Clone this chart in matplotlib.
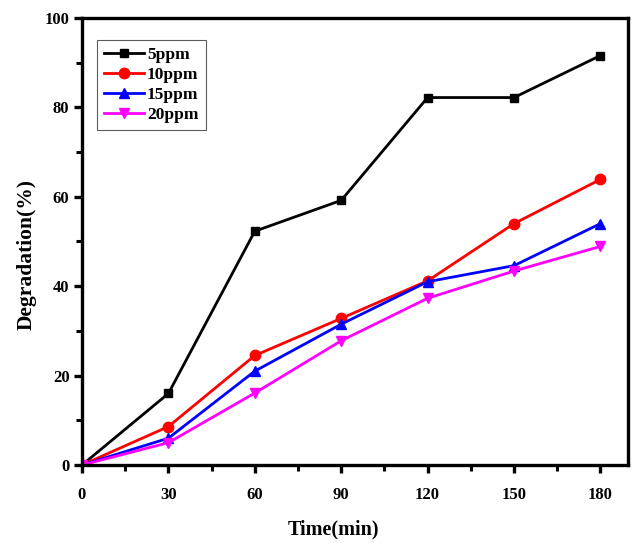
import matplotlib.pyplot as plt

time = [0, 30, 60, 90, 120, 150, 180]
deg_5ppm = [0, 16.0, 52.3, 59.2, 82.2, 82.2, 91.6]
deg_10ppm = [0, 8.6, 24.5, 32.8, 41.2, 54.0, 63.9]
deg_15ppm = [0, 6.0, 21.0, 31.5, 41.0, 44.6, 54.0]
deg_20ppm = [0, 5.0, 16.1, 27.8, 37.3, 43.4, 48.9]
labels = ['5ppm', '10ppm', '15ppm', '20ppm']

plt.rcParams['font.family'] = ['Liberation Serif', 'DejaVu Serif']
plt.rcParams['font.weight'] = 'bold'

fig = plt.figure(figsize=(6.38, 5.43), dpi=100)
ax = fig.add_axes([0.1285, 0.1436, 0.8555, 0.8233])

ax.plot(time, deg_5ppm, color='black', marker='s', ms=6, lw=2, label=labels[0])
ax.plot(time, deg_10ppm, color='red', marker='o', ms=7.5, lw=2, label=labels[1])
ax.plot(time, deg_15ppm, color='blue', marker='^', ms=7.5, lw=2, label=labels[2])
ax.plot(time, deg_20ppm, color='magenta', marker='v', ms=7.5, lw=2, label=labels[3])

ax.set_xlim(0, 189.5)
ax.set_ylim(0, 100)
ax.set_xticks(range(0, 181, 30))
ax.set_xticks(range(15, 181, 30), minor=True)
ax.set_yticks(range(0, 101, 20))
ax.set_yticks(range(10, 100, 20), minor=True)
ax.tick_params(which='major', direction='out', length=6, width=2.4, labelsize=12)
ax.tick_params(axis='x', which='major', pad=10)
ax.tick_params(axis='y', which='major', pad=3)
ax.tick_params(which='minor', direction='out', length=4, width=2.2)
for s in ax.spines.values():
    s.set_linewidth(2.4)
for t in ax.get_xticklabels() + ax.get_yticklabels():
    t.set_fontweight('bold')

ax.set_xlabel('Time(min)', fontsize=14.5, fontweight='bold')
ax.xaxis.set_label_coords(0.461, -0.122)
ax.set_ylabel('Degradation(%)', fontsize=15.5, fontweight='bold')
ax.yaxis.set_label_coords(-0.083, 0.47)

leg = ax.legend(loc='upper left', bbox_to_anchor=(0.027, 0.95), fontsize=12.5,
                frameon=True, fancybox=False, edgecolor='#333333', handlelength=2.3,
                handletextpad=0.2, borderpad=0.4, labelspacing=0.22,
                borderaxespad=0)
leg.get_frame().set_linewidth(0.8)
for t in leg.get_texts():
    t.set_fontweight('bold')

fig.savefig('out.png', dpi=100)
